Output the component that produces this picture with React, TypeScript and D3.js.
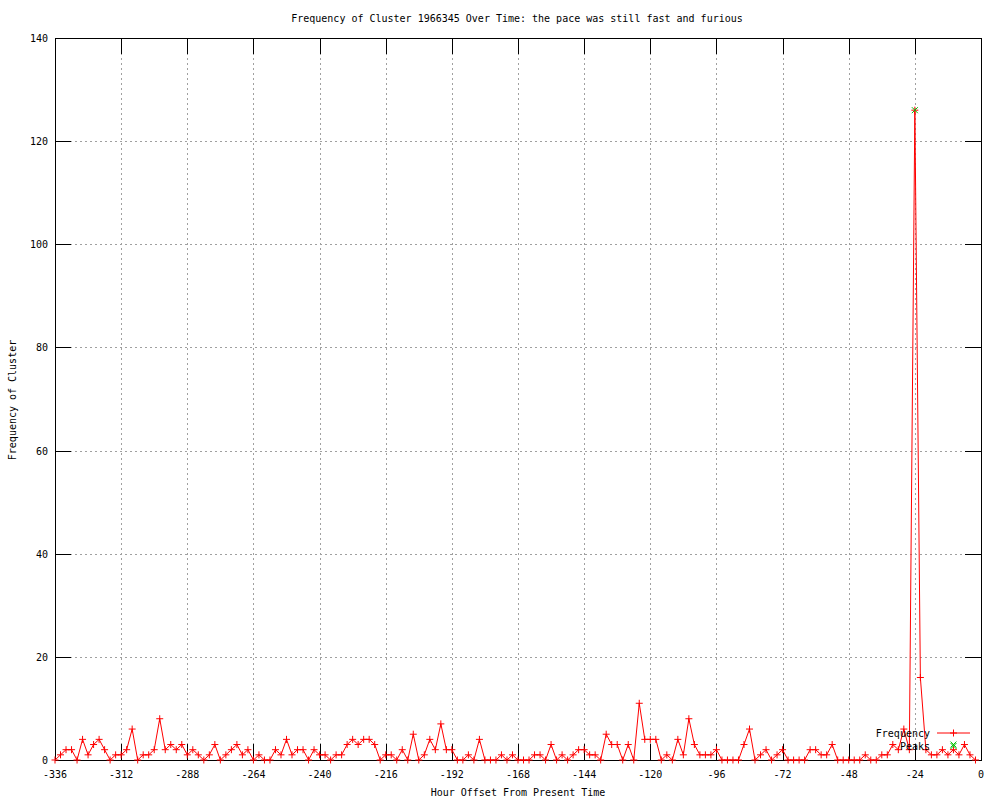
import React from "react";
import * as d3 from "d3";

const title = "Frequency of Cluster 1966345 Over Time: the pace was still fast and furious";
const xLabel = "Hour Offset From Present Time";
const yLabel = "Frequency of Cluster";

// Frequency series: one value every 2 hours, starting at hour -336 (last point at -2)
const startHour = -336;
const stepHours = 2;
const frequencyValues: number[] = [
  0, 1, 2, 2, 0, 4, 1, 3, 4, 2, 0, 1,
  1, 2, 6, 0, 1, 1, 2, 8, 2, 3, 2, 3,
  1, 2, 1, 0, 1, 3, 0, 1, 2, 3, 1, 2,
  0, 1, 0, 0, 2, 1, 4, 1, 2, 2, 0, 2,
  1, 1, 0, 1, 1, 3, 4, 3, 4, 4, 3, 0,
  1, 1, 0, 2, 0, 5, 0, 1, 4, 2, 7, 2,
  2, 0, 0, 1, 0, 4, 0, 0, 0, 1, 0, 1,
  0, 0, 0, 1, 1, 0, 3, 0, 1, 0, 1, 2,
  2, 1, 1, 0, 5, 3, 3, 0, 3, 0, 11, 4,
  4, 4, 0, 1, 0, 4, 1, 8, 3, 1, 1, 1,
  2, 0, 0, 0, 0, 3, 6, 0, 1, 2, 0, 1,
  2, 0, 0, 0, 0, 2, 2, 1, 1, 3, 0, 0,
  0, 0, 0, 1, 0, 0, 1, 1, 3, 2, 6, 2,
  126, 16, 2, 1, 1, 2, 1, 2, 1, 3, 1, 0,
];

const peakHours: number[] = [-24, -10];
const peakValues: number[] = [126, 3];

const xTicks: number[] = [-336, -312, -288, -264, -240, -216, -192, -168, -144, -120, -96, -72, -48, -24, 0];
const yTicks: number[] = [0, 20, 40, 60, 80, 100, 120, 140];

const FONT = "'DejaVu Sans Mono', 'Liberation Mono', monospace";

export default function App() {
  const W = 1000;
  const H = 800;
  const left = 55;
  const right = 981;
  const top = 38;
  const bottom = 760;
  const tick = 16;

  const x = d3.scaleLinear().domain([-336, 0]).range([left, right]);
  const y = d3.scaleLinear().domain([0, 140]).range([bottom, top]);

  const freq = frequencyValues.map((v, i) => ({ h: startHour + i * stepHours, v }));
  const peaks = peakHours.map((h, i) => ({ h, v: peakValues[i] }));

  const line = d3
    .line<{ h: number; v: number }>()
    .x((d) => x(d.h))
    .y((d) => y(d.v));

  const plus = (cx: number, cy: number, s: number, color: string, key: string) => (
    <path key={key} d={`M${cx - s},${cy}H${cx + s}M${cx},${cy - s}V${cy + s}`} stroke={color} strokeWidth={1} fill="none" />
  );
  const cross = (cx: number, cy: number, s: number, color: string, key: string) => (
    <path key={key} d={`M${cx - s},${cy - s}L${cx + s},${cy + s}M${cx - s},${cy + s}L${cx + s},${cy - s}`} stroke={color} strokeWidth={1} fill="none" />
  );

  const green = "#00c000";

  return (
    <svg
      width={W}
      height={H}
      style={{ position: "absolute", left: 0, top: 0, background: "#fff" }}
      fontFamily={FONT}
      fontSize={10}
    >
      <rect x={0} y={0} width={W} height={H} fill="#fff" />
      {/* grid */}
      <g stroke="#a0a0a0" strokeWidth={1} strokeDasharray="2,3" shapeRendering="crispEdges">
        {xTicks.slice(1, -1).map((t) => (
          <line key={"gx" + t} x1={Math.round(x(t)) + 0.5} x2={Math.round(x(t)) + 0.5} y1={top} y2={bottom} />
        ))}
        {yTicks.slice(1, -1).map((t) => (
          <line key={"gy" + t} x1={left} x2={right} y1={Math.round(y(t)) + 0.5} y2={Math.round(y(t)) + 0.5} />
        ))}
      </g>
      {/* ticks */}
      <g stroke="#000" strokeWidth={1} shapeRendering="crispEdges">
        {xTicks.map((t) => (
          <g key={"tx" + t}>
            <line x1={Math.round(x(t)) + 0.5} x2={Math.round(x(t)) + 0.5} y1={bottom} y2={bottom - tick} />
            <line x1={Math.round(x(t)) + 0.5} x2={Math.round(x(t)) + 0.5} y1={top} y2={top + tick} />
          </g>
        ))}
        {yTicks.map((t) => (
          <g key={"ty" + t}>
            <line x1={left} x2={left + tick} y1={Math.round(y(t)) + 0.5} y2={Math.round(y(t)) + 0.5} />
            <line x1={right} x2={right - tick} y1={Math.round(y(t)) + 0.5} y2={Math.round(y(t)) + 0.5} />
          </g>
        ))}
      </g>
      {/* border */}
      <rect x={left + 0.5} y={top + 0.5} width={right - left} height={bottom - top} fill="none" stroke="#000" strokeWidth={1} shapeRendering="crispEdges" />
      {/* tick labels */}
      {xTicks.map((t) => (
        <text key={"lx" + t} x={x(t)} y={778} textAnchor="middle" fill="#000">
          {t}
        </text>
      ))}
      {yTicks.map((t) => (
        <text key={"ly" + t} x={48} y={y(t) + 4} textAnchor="end" fill="#000">
          {t}
        </text>
      ))}
      {/* labels */}
      <text x={517} y={22} textAnchor="middle" fill="#000">{title}</text>
      <text x={518} y={796} textAnchor="middle" fill="#000">{xLabel}</text>
      <text transform={`translate(16,400) rotate(-90)`} textAnchor="middle" fill="#000">{yLabel}</text>
      {/* frequency line */}
      <path d={line(freq) || ""} fill="none" stroke="#ff0000" strokeWidth={1} />
      {freq.map((d, i) => plus(x(d.h), y(d.v), 3.5, "#ff0000", "p" + i))}
      {/* peaks */}
      {peaks.map((d, i) => cross(x(d.h), y(d.v), 3, green, "k" + i))}
      {/* legend */}
      <text x={930} y={737} textAnchor="end" fill="#000">Frequency</text>
      <line x1={937} x2={970} y1={733} y2={733} stroke="#ff0000" strokeWidth={1} />
      {plus(953.5, 733, 3.5, "#ff0000", "legp")}
      <text x={930} y={750} textAnchor="end" fill="#000">Peaks</text>
      {cross(953.5, 746, 3, green, "legk")}
    </svg>
  );
}
